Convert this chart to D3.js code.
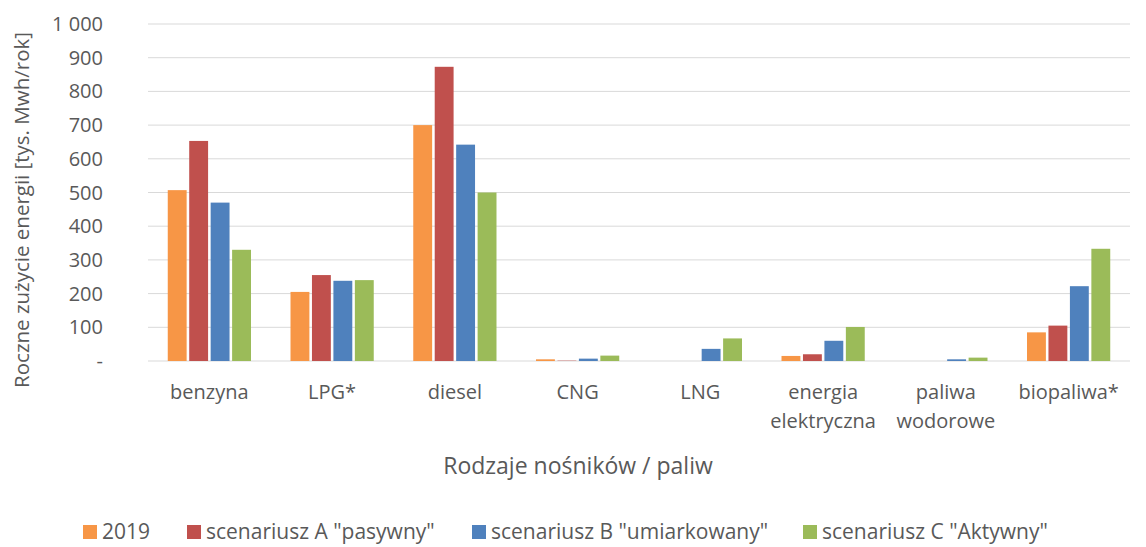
<!DOCTYPE html>
<html>
<head>
<meta charset="utf-8">
<script src="https://cdn.jsdelivr.net/npm/d3@7"></script>
<style>
  body { margin: 0; background: #fff; }
  svg text { font-family: "Open Sans", "Noto Sans", sans-serif; fill: #595959; }
</style>
</head>
<body>
<svg id="chart" width="1146" height="547"></svg>
<script>
var categories = ["benzyna", "LPG*", "diesel", "CNG", "LNG", "energia\nelektryczna", "paliwa\nwodorowe", "biopaliwa*"];
var seriesNames = ["2019", "scenariusz A \"pasywny\"", "scenariusz B \"umiarkowany\"", "scenariusz C \"Aktywny\""];
var v2019 = [507, 205, 700, 5, 0, 15, 0, 85];
var vA = [653, 255, 873, 1, 0, 20, 0, 105];
var vB = [470, 238, 642, 7, 36, 60, 5, 222];
var vC = [330, 240, 500, 16, 67, 101, 10, 333];
var yTicks = [0, 100, 200, 300, 400, 500, 600, 700, 800, 900, 1000];
var colors = ["#F79646", "#C0504D", "#4F81BD", "#9BBB59"];

var values = [v2019, vA, vB, vC];
var svg = d3.select("#chart");
var margin = {top: 24, left: 148, right: 16, bottom: 186};
var width = 1146 - margin.left - margin.right,
    height = 547 - margin.top - margin.bottom;

var g = svg.append("g").attr("transform", "translate(" + margin.left + "," + margin.top + ")");

var x = d3.scaleBand().domain(categories).range([0, width]);
var xs = d3.scaleBand().domain(d3.range(4)).range([0, x.bandwidth() * 0.72]).padding(0.12);
var y = d3.scaleLinear().domain([0, 1000]).range([height, 0]);

// grid
g.selectAll(".grid").data(yTicks).enter().append("line")
    .attr("x1", 0).attr("x2", width)
    .attr("y1", function (d) { return y(d); })
    .attr("y2", function (d) { return y(d); })
    .attr("stroke", "#D9D9D9").attr("stroke-width", 1);

// y labels
g.selectAll(".ylab").data(yTicks).enter().append("text")
    .attr("x", -45).attr("y", function (d) { return y(d); })
    .attr("dy", "0.35em").attr("text-anchor", "end")
    .style("font-size", "20px")
    .text(function (d) { return d === 0 ? "-" : d3.format(",")(d).replace(",", " "); });

// bars
var off = x.bandwidth() * 0.14;
values.forEach(function (arr, si) {
    g.selectAll(".bar" + si).data(arr).enter().append("rect")
        .attr("x", function (d, i) { return x(categories[i]) + off + xs(si); })
        .attr("y", function (d) { return y(d); })
        .attr("width", xs.bandwidth())
        .attr("height", function (d) { return height - y(d); })
        .attr("fill", colors[si]);
});

// x labels
categories.forEach(function (c) {
    var t = g.append("text")
        .attr("x", x(c) + x.bandwidth() / 2)
        .attr("y", height + 38)
        .attr("text-anchor", "middle")
        .style("font-size", "20px");
    c.split("\n").forEach(function (line, i) {
        t.append("tspan").attr("x", x(c) + x.bandwidth() / 2)
            .attr("dy", i === 0 ? 0 : 29).text(line);
    });
});

// axis titles
svg.append("text")
    .attr("transform", "translate(29,210)rotate(-90)")
    .attr("text-anchor", "middle").style("font-size", "20.5px")
    .text("Roczne zużycie energii [tys. Mwh/rok]");
svg.append("text")
    .attr("x", 578).attr("y", 474)
    .attr("text-anchor", "middle").style("font-size", "23px")
    .text("Rodzaje nośników / paliw");

// legend
var legX = [83, 187, 472, 803];
seriesNames.forEach(function (s, i) {
    svg.append("rect").attr("x", legX[i]).attr("y", 525).attr("width", 14).attr("height", 14).attr("fill", colors[i]);
    svg.append("text").attr("x", legX[i] + 19).attr("y", 539)
        .style("font-size", "21px").text(s);
});
</script>
</body>
</html>
